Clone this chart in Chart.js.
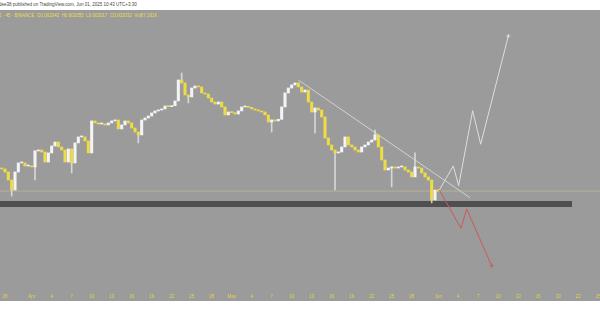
<!DOCTYPE html>
<html>
<head>
<meta charset="utf-8">
<script src="https://cdn.jsdelivr.net/npm/chart.js@4.4.1/dist/chart.umd.min.js"></script>
<style>
  body { margin: 0; background: #fff; }
  #wrap { position: relative; width: 600px; height: 315px; overflow: hidden; }
  #pane { position: absolute; left: 0; top: 10px; width: 600px; height: 291px; background: #9b9b9b; }
  .txt { position: absolute; white-space: nowrap; font-family: "Liberation Sans", Arial, sans-serif; font-size: 4.5px; }
  #by { left: -2px; top: 2px; color: #444; }
  #sym { left: -1px; top: 13px; color: #efdf4e; }
</style>
</head>
<body>
<div id="wrap">
  <div id="pane"><canvas id="c" width="600" height="291"></canvas></div>
  <div class="txt" id="by">idee38 published on TradingView.com, Jun 01, 2025 10:43 UTC+3:30</div>
  <div class="txt" id="sym">5 · 45 · BINANCE &nbsp;O0.002042 &nbsp;H0.002055 &nbsp;L0.002017 &nbsp;C0.002032 &nbsp;Vol67.181K</div>
</div>
<script>
// x axis is in days counted from Mar 28
const tickDays = [0, 4, 7, 10, 13, 16, 19, 22, 25, 28, 31, 34, 37, 40, 43, 46, 49, 52, 55, 58, 61, 65, 68, 71, 74, 77, 80, 83, 86, 89]
const tickLabels = ['28', 'Apr', '4', '7', '10', '13', '16', '19', '22', '25', '28', 'May', '4', '7', '10', '13', '16', '19', '22', '25', '28', 'Jun', '4', '7', '10', '13', '16', '19', '22', '25']

// 12h candles, first one at day -0.5
const candleStart = -0.5
const candleStep = 0.5
const firstOpen = 0.002205
const closes = [
  0.002198, 0.002175, 0.002115, 0.002040, 0.002175, 0.002243, 0.002243, 0.002220, 0.002220, 0.002213,
  0.002333, 0.002340, 0.002325, 0.002250, 0.002318, 0.002370, 0.002400, 0.002363, 0.002340, 0.002250,
  0.002348, 0.002243, 0.002393, 0.002438, 0.002438, 0.002408, 0.002318, 0.002558, 0.002543, 0.002535,
  0.002535, 0.002528, 0.002543, 0.002558, 0.002565, 0.002498, 0.002528, 0.002558, 0.002543, 0.002505,
  0.002475, 0.002453, 0.002565, 0.002580, 0.002595, 0.002618, 0.002633, 0.002640, 0.002648, 0.002670,
  0.002665, 0.002672, 0.002708, 0.002865, 0.002843, 0.002753, 0.002738, 0.002805, 0.002820, 0.002813,
  0.002768, 0.002760, 0.002730, 0.002700, 0.002685, 0.002700, 0.002663, 0.002603, 0.002625, 0.002620,
  0.002610, 0.002633, 0.002663, 0.002668, 0.002660, 0.002648, 0.002640, 0.002633, 0.002625, 0.002603,
  0.002550, 0.002565, 0.002558, 0.002570, 0.002663, 0.002768, 0.002805, 0.002828, 0.002843, 0.002813,
  0.002775, 0.002790, 0.002700, 0.002625, 0.002655, 0.002640, 0.002588, 0.002430, 0.002378, 0.002340,
  0.002318, 0.002325, 0.002363, 0.002438, 0.002378, 0.002363, 0.002340, 0.002325, 0.002363, 0.002378,
  0.002400, 0.002415, 0.002453, 0.002363, 0.002265, 0.002190, 0.002205, 0.002213, 0.002205, 0.002213,
  0.002213, 0.002190, 0.002175, 0.002138, 0.002213, 0.002205, 0.002168, 0.002138, 0.002115, 0.001965,
  0.002040, 0.002032
]
// long wicks: candle index and the price the wick reaches
const spikeIdx = [3, 10, 21, 41, 54, 56, 81, 94, 100, 112, 117, 124, 129]
const spikePrice = [0.001995, 0.002115, 0.002168, 0.002393, 0.002918, 0.002693, 0.002475, 0.002468, 0.002040, 0.002490, 0.002063, 0.002318, 0.001943]

const lastPrice = 0.002032
const supportPrice = 0.001935
const supportDays = [-0.75, 85.05]

const trendDays = [44.0, 69.75]
const trendPrices = [0.002865, 0.001982]

const bullDays = [65.15, 67.24, 68.05, 70.15, 71.35, 75.5]
const bullPrices = [0.002040, 0.002220, 0.002072, 0.002635, 0.002383, 0.003195]
const bearDays = [65.15, 68.4, 69.25, 73.0]
const bearPrices = [0.002040, 0.001753, 0.001898, 0.001472]

const pts = (xs, ys) => xs.map((x, i) => ({x: x, y: ys[i]}))

let bodies = [], bodyColors = []
closes.forEach((c, i) => {
  const o = i === 0 ? firstOpen : closes[i - 1]
  bodies.push({x: candleStart + i * candleStep, y: [o, c]})
  bodyColors.push(c >= o ? '#f4f4f4' : '#eedb47')
})
const wicks = spikeIdx.map((k, i) => ({x: candleStart + k * candleStep, y: [spikePrice[i], closes[k]]}))

const ctx = document.getElementById('c')
new Chart(ctx, {
  type: 'line',
  data: {
    datasets: [
      {data: [{x: -0.75, y: lastPrice}, {x: 89.25, y: lastPrice}], borderColor: 'rgba(200,194,150,0.6)', borderWidth: 1, pointRadius: 0, order: 6},
      {data: supportDays.map(d => ({x: d, y: supportPrice})), borderColor: '#4f4f4f', borderWidth: 6, borderCapStyle: 'butt', pointRadius: 0, order: 5},
      {data: pts(trendDays, trendPrices), borderColor: '#d2d2d2', borderWidth: 1, pointRadius: 0, order: 4},
      {type: 'bar', data: wicks, backgroundColor: 'rgba(225,225,225,0.85)', barThickness: 1, grouped: false, order: 3},
      {type: 'bar', data: bodies, backgroundColor: bodyColors, barThickness: 2.4, minBarLength: 1, grouped: false, order: 2},
      {data: pts(bullDays, bullPrices), borderColor: '#dedede', borderWidth: 1, pointStyle: 'cross',
        pointRadius: bullDays.map((d, i) => i === bullDays.length - 1 ? 2 : 0), pointBorderColor: '#dedede', order: 1},
      {data: pts(bearDays, bearPrices), borderColor: '#c95a5a', borderWidth: 1, pointStyle: 'cross',
        pointRadius: bearDays.map((d, i) => i === bearDays.length - 1 ? 2 : 0), pointBorderColor: '#c95a5a', order: 1}
    ]
  },
  options: {
    responsive: false,
    animation: false,
    layout: {padding: 0, autoPadding: false},
    plugins: {legend: {display: false}, tooltip: {enabled: false}},
    elements: {line: {tension: 0}},
    scales: {
      x: {
        type: 'linear', min: -0.75, max: 89.25, offset: false,
        grid: {display: false, drawTicks: false}, border: {display: false},
        ticks: {
          autoSkip: false, maxRotation: 0, padding: 3, color: '#e4d44c',
          font: {size: 4.5, family: 'Liberation Sans'},
          callback: (v, i) => tickLabels[i]
        },
        afterBuildTicks: s => { s.ticks = tickDays.map(v => ({value: v})) },
        afterFit: s => { s.height = 10; s.paddingLeft = 0; s.paddingRight = 0 }
      },
      y: {type: 'linear', display: false, min: 0.0012825, max: 0.00339}
    }
  }
})
</script>
</body>
</html>
